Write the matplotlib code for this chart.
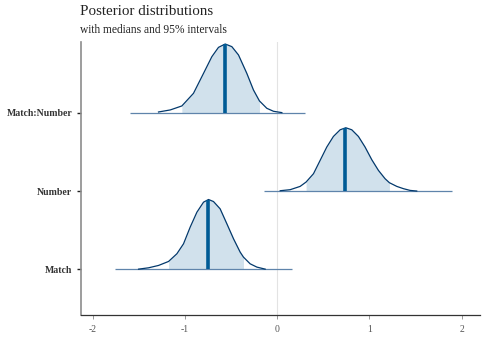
import numpy as np
import matplotlib.pyplot as plt

# parameters, bottom to top
params = ['Match', 'Number', 'Match:Number']
medians = [-0.75, 0.74, -0.57]
median_heights = [0.89, 0.807, 0.87]
inner_lo = [-1.177, 0.314, -1.033]
inner_hi = [-0.365, 1.217, -0.192]
base_lo = [-1.755, -0.141, -1.593]
base_hi = [0.159, 1.893, 0.303]

# density outlines (scaled heights)
match_x = [-1.502, -1.394, -1.286, -1.177, -1.087, -1.015, -0.943, -0.870, -0.798,
           -0.744, -0.690, -0.618, -0.545, -0.473, -0.401, -0.365, -0.293, -0.220, -0.130]
match_h = [0.004, 0.021, 0.051, 0.102, 0.200, 0.327, 0.539, 0.730, 0.858,
           0.892, 0.866, 0.773, 0.582, 0.391, 0.221, 0.157, 0.072, 0.030, 0.004]

number_x = [0.033, 0.141, 0.249, 0.314, 0.394, 0.466, 0.538, 0.610, 0.683, 0.744,
            0.809, 0.881, 0.953, 1.026, 1.098, 1.170, 1.217, 1.297, 1.369, 1.441, 1.513]
number_h = [0.004, 0.017, 0.059, 0.115, 0.221, 0.391, 0.561, 0.696, 0.781, 0.807,
            0.781, 0.696, 0.561, 0.399, 0.263, 0.157, 0.106, 0.059, 0.030, 0.008, 0.0]

inter_x = [-1.286, -1.159, -1.033, -0.907, -0.798, -0.708, -0.636, -0.563, -0.491,
           -0.419, -0.329, -0.257, -0.192, -0.112, -0.040, 0.051]
inter_h = [0.008, 0.034, 0.085, 0.246, 0.501, 0.713, 0.832, 0.875, 0.841,
           0.735, 0.501, 0.289, 0.149, 0.055, 0.017, 0.0]

curves = [(match_x, match_h), (number_x, number_h), (inter_x, inter_h)]

plt.rcParams['font.family'] = 'Liberation Serif'
fig = plt.figure(figsize=(4.83, 3.39), dpi=100)
ax = fig.add_axes([0.167, 0.071, 0.827, 0.805])

ax.axvline(0, color='#e3e3e3', lw=0.8, zorder=0)

for i, (cx, ch) in enumerate(curves):
    level = i + 1
    cx = np.array(cx)
    ch = np.array(ch)
    inside = (cx >= inner_lo[i] - 1e-9) & (cx <= inner_hi[i] + 1e-9)
    ax.fill_between(cx, level, level + ch, where=inside, color='#d1e1ec', lw=0, zorder=1)
    ax.hlines(level, base_lo[i], base_hi[i], color='#5f84ab', lw=0.9, zorder=2)
    ax.plot(cx, level + ch, color='#03396c', lw=0.9, zorder=3,
            solid_joinstyle='round')
    ax.vlines(medians[i], level, level + median_heights[i], color='#005b96', lw=2.6, zorder=4)

ax.set_xlim(-2.13, 2.2)
ax.set_ylim(0.42, 3.9)
ax.set_xticks([-2, -1, 0, 1, 2])
ax.set_xticklabels(['-2', '-1', '0', '1', '2'])
ax.set_yticks([1, 2, 3])
ax.set_yticklabels(params, fontweight='bold')

ax.tick_params(axis='y', length=3, width=1, color='#222222', labelsize=7, labelcolor='#333333', pad=3)
ax.tick_params(axis='x', length=3, width=0.6, color='#888888', labelsize=7, labelcolor='#555555', pad=4)

for s in ['top', 'right']:
    ax.spines[s].set_visible(False)
ax.spines['left'].set_color('#8c8c8c')
ax.spines['left'].set_linewidth(1.2)
ax.spines['bottom'].set_color('#333333')
ax.spines['bottom'].set_linewidth(0.9)

fig.text(0.166, 0.957, 'Posterior distributions', fontsize=10.8, color='#222222', va='baseline')
fig.text(0.166, 0.902, 'with medians and 95% intervals', fontsize=8.3, color='#222222', va='baseline')

fig.savefig('out.png', dpi=100)
